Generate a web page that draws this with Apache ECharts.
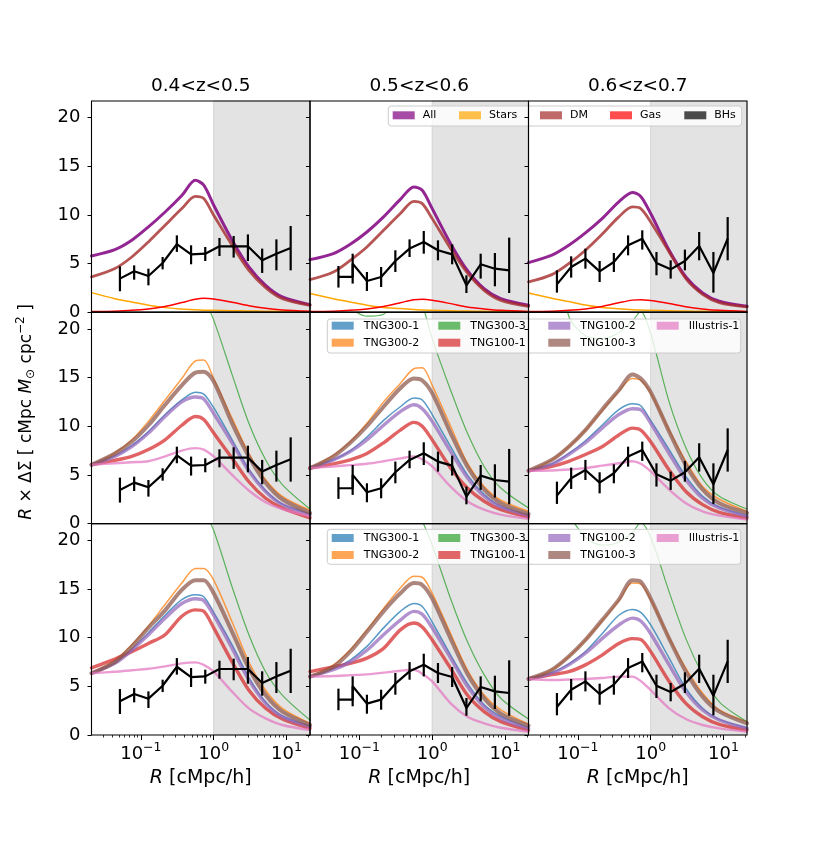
<!DOCTYPE html>
<html><head><meta charset="utf-8">
<script src="https://cdn.jsdelivr.net/npm/echarts@6/dist/echarts.min.js"></script>
<style>html,body{margin:0;padding:0;background:#fff}#c{width:830px;height:841px}</style>
</head><body><div id="c"></div>
<script>
// ---------------- data ----------------
const COLUMN_TITLES = ['0.4<z<0.5', '0.5<z<0.6', '0.6<z<0.7'];
const Y_TICKS = [0, 5, 10, 15, 20];
const X_MAJOR_TICKS = [0.1, 1, 10];
const X_MINOR_TICKS = [0.03,0.04,0.05,0.06,0.07,0.08,0.09,0.2,0.3,0.4,0.5,0.6,0.7,0.8,0.9,2,3,4,5,6,7,8,9,20];
const X_MIN = 0.021, X_MAX = 21, Y_MIN = 0, Y_MAX = 21.7;
const SHADE_FROM = 1;

// observed (black) points
const R_OBS = [0.0516, 0.0809, 0.127, 0.199, 0.312, 0.489, 0.766, 1.2, 1.88, 2.95, 4.63, 7.26, 11.4];
const OBS_Y_Z1  = [3.46, 4.21, 3.73, 5.06, 7.01, 5.95, 6.02, 6.78, 6.78, 6.78, 5.34, 6.02, 6.6];
const OBS_LO_Z1 = [2.16, 3.35, 2.77, 4.41, 6.2, 4.93, 5.27, 5.78, 5.62, 5.27, 4.04, 4.31, 4.31];
const OBS_HI_Z1 = [4.72, 4.82, 4.48, 5.68, 7.9, 6.88, 6.71, 7.63, 7.84, 8.0, 6.54, 7.49, 8.86];
const OBS_Y_Z2  = [3.63, 3.63, 3.22, 3.63, 5.27, 6.54, 7.22, 6.37, 5.95, 2.77, 4.93, 4.48, 4.31];
const OBS_Y2_Z2 = [null, 5.0, null, null, null, null, null, null, null, null, null, null, null];
const OBS_LO_Z2 = [2.54, 2.95, 2.19, 2.6, 4.14, 5.68, 6.02, 5.34, 4.93, 1.98, 3.46, 2.67, 1.98];
const OBS_HI_Z2 = [4.76, 6.02, 4.14, 4.65, 6.37, 7.49, 8.35, 7.39, 6.98, 3.8, 6.02, 6.09, 7.67];
const OBS_Y_Z3  = [2.87, 4.65, 5.51, 4.21, 5.17, 6.88, 7.56, 5.06, 4.41, 5.27, 6.81, 4.04, 7.56];
const OBS_LO_Z3 = [2.02, 3.56, 4.48, 3.11, 4.14, 5.85, 6.44, 3.8, 3.46, 4.31, 5.34, 2.02, 5.34];
const OBS_HI_Z3 = [4.31, 5.75, 6.54, 5.27, 6.09, 7.9, 8.42, 6.19, 5.34, 6.44, 8.25, 6.19, 9.78];

// model curves sampled at R_MODEL
const R_MODEL = [0.021, 0.044, 0.075, 0.127, 0.215, 0.365, 0.56, 0.73, 1.0, 1.79, 3.04, 5.16, 8.75, 21];

// top row: components
const ALL_Z1   = [5.79, 6.44, 7.4, 8.77, 10.3, 12.0, 13.56, 13.05, 11.0, 7.4, 4.66, 2.77, 1.58, 0.79];
const DM_Z1    = [3.63, 4.49, 5.68, 7.23, 8.94, 10.65, 11.9, 11.68, 9.97, 6.88, 4.3, 2.53, 1.4, 0.72];
const STARS_Z1 = [2.02, 1.4, 1.06, 0.72, 0.48, 0.34, 0.26, 0.22, 0.2, 0.16, 0.14, 0.11, 0.09, 0.07];
const GAS_Z1   = [0.07, 0.12, 0.2, 0.35, 0.6, 1.0, 1.33, 1.44, 1.37, 1.03, 0.68, 0.41, 0.24, 0.1];
const BHS_Z1   = [0.02, 0.02, 0.02, 0.02, 0.02, 0.02, 0.02, 0.02, 0.02, 0.02, 0.02, 0.02, 0.02, 0.02];
const ALL_Z2   = [5.41, 6.03, 6.99, 8.25, 9.8, 11.6, 12.88, 12.53, 10.65, 7.05, 4.3, 2.43, 1.4, 0.72];
const DM_Z2    = [3.36, 4.14, 5.34, 6.71, 8.42, 10.14, 11.4, 11.16, 9.62, 6.54, 4.04, 2.26, 1.23, 0.62];
const STARS_Z2 = [1.92, 1.4, 1.06, 0.72, 0.5, 0.38, 0.28, 0.24, 0.2, 0.16, 0.13, 0.1, 0.08, 0.06];
const GAS_Z2   = [0.07, 0.12, 0.2, 0.35, 0.6, 0.98, 1.3, 1.33, 1.23, 0.89, 0.55, 0.35, 0.2, 0.09];
const BHS_Z2   = [0.02, 0.02, 0.02, 0.02, 0.02, 0.02, 0.02, 0.02, 0.02, 0.02, 0.02, 0.02, 0.02, 0.02];
const ALL_Z3   = [5.1, 5.86, 6.88, 8.15, 9.62, 11.34, 12.3, 11.9, 10.14, 6.37, 3.63, 1.99, 1.13, 0.62];
const DM_Z3    = [3.12, 3.87, 5.0, 6.37, 8.01, 9.8, 10.82, 10.65, 9.28, 6.2, 3.46, 1.85, 0.99, 0.55];
const STARS_Z3 = [1.99, 1.45, 1.1, 0.75, 0.5, 0.36, 0.27, 0.23, 0.2, 0.16, 0.13, 0.1, 0.08, 0.06];
const GAS_Z3   = [0.07, 0.12, 0.2, 0.35, 0.6, 0.98, 1.25, 1.3, 1.2, 0.9, 0.58, 0.35, 0.2, 0.09];
const BHS_Z3   = [0.02, 0.02, 0.02, 0.02, 0.02, 0.02, 0.02, 0.02, 0.02, 0.02, 0.02, 0.02, 0.02, 0.02];

// middle row: simulations
const MID_TNG300_1_Z1 = [6.04, 6.96, 8.0, 9.45, 11.2, 12.7, 13.5, 13.3, 11.9, 8.6, 5.56, 3.4, 2.0, 0.99];
const MID_TNG300_2_Z1 = [6.04, 7.25, 8.6, 10.5, 12.7, 14.9, 16.7, 16.8, 14.9, 10.8, 7.2, 4.5, 2.8, 1.37];
const MID_TNG300_3_Z1 = [60, 50, 42, 36, 31, 27, 24, 23, 20.9, 15.3, 10.3, 6.55, 4.0, 1.5];
const MID_TNG100_1_Z1 = [6.04, 6.5, 6.9, 7.6, 8.6, 10.1, 11.0, 10.7, 9.3, 6.7, 4.3, 2.6, 1.6, 0.58];
const MID_TNG100_2_Z1 = [6.04, 6.9, 7.9, 9.3, 11.0, 12.5, 13.0, 12.8, 11.3, 8.3, 5.4, 3.3, 1.95, 0.92];
const MID_TNG100_3_Z1 = [6.04, 7.2, 8.4, 10.1, 12.2, 14.2, 15.5, 15.6, 14.6, 10.3, 6.9, 4.2, 2.5, 1.1];
const MID_ILLUSTRIS_Z1 = [6.04, 6.2, 6.3, 6.4, 6.9, 7.5, 7.75, 7.6, 6.9, 5.0, 3.4, 2.2, 1.5, 0.75];

const MID_TNG300_1_Z2 = [5.7, 6.55, 7.5, 8.9, 10.6, 12.0, 12.9, 12.7, 11.2, 7.9, 5.0, 3.0, 1.77, 0.89];
const MID_TNG300_2_Z2 = [5.7, 7.0, 8.4, 10.3, 12.5, 14.4, 15.9, 16.0, 14.2, 10.0, 6.2, 3.8, 2.4, 1.26];
const MID_TNG300_3_Z2 = [40, 26, 22.3, 21.3, 21.5, 23.5, 24, 22.5, 19.0, 13.7, 9.3, 5.87, 3.65, 1.6];
const MID_TNG100_1_Z2 = [5.7, 6.14, 6.55, 7.2, 8.3, 9.6, 10.4, 10.0, 8.6, 5.7, 3.65, 2.3, 1.43, 0.68];
const MID_TNG100_2_Z2 = [5.7, 6.55, 7.4, 8.6, 10.1, 11.5, 12.2, 11.8, 10.5, 7.4, 4.7, 2.8, 1.7, 0.82];
const MID_TNG100_3_Z2 = [5.7, 6.9, 8.3, 10.0, 12.0, 13.9, 14.9, 14.7, 13.4, 9.3, 5.87, 3.5, 2.1, 1.0];
const MID_ILLUSTRIS_Z2 = [5.7, 5.87, 6.0, 6.14, 6.4, 6.7, 6.9, 6.6, 5.87, 3.8, 2.3, 1.43, 0.92, 0.48];

const MID_TNG300_1_Z3 = [5.43, 6.14, 7.2, 8.5, 10.1, 11.7, 12.3, 12.1, 10.6, 7.6, 4.85, 2.8, 1.7, 0.82];
const MID_TNG300_2_Z3 = [5.43, 6.55, 7.9, 9.6, 11.6, 13.6, 14.9, 14.7, 13.4, 9.6, 6.4, 3.8, 2.5, 1.26];
const MID_TNG300_3_Z3 = [45, 30, 21.3, 19.3, 19.0, 19.6, 20.8, 21.8, 19.5, 12.5, 7.8, 4.6, 2.8, 1.5];
const MID_TNG100_1_Z3 = [5.43, 5.87, 6.4, 7.1, 7.9, 9.1, 9.8, 9.6, 8.4, 5.5, 3.3, 1.95, 1.16, 0.58];
const MID_TNG100_2_Z3 = [5.43, 6.1, 7.1, 8.3, 9.8, 11.2, 11.8, 11.7, 10.3, 7.2, 4.5, 2.6, 1.6, 0.75];
const MID_TNG100_3_Z3 = [5.43, 6.55, 7.9, 9.6, 11.7, 13.7, 15.3, 14.9, 13.5, 9.45, 6.0, 3.5, 2.1, 1.1];
const MID_ILLUSTRIS_Z3 = [5.43, 5.46, 5.55, 5.7, 5.95, 6.2, 6.4, 6.14, 5.36, 3.5, 2.1, 1.26, 0.82, 0.41];

// bottom row: simulations
const BOT_TNG300_1_Z1 = [6.34, 7.4, 8.8, 10.5, 12.3, 13.9, 14.4, 14.2, 12.6, 9.25, 5.9, 3.4, 1.95, 0.92];
const BOT_TNG300_2_Z1 = [6.34, 7.7, 9.25, 11.2, 13.4, 15.6, 17.1, 17.1, 15.9, 11.6, 7.5, 4.6, 2.74, 1.2];
const BOT_TNG300_3_Z1 = [60, 50, 42, 36, 31, 27, 24, 23, 21.0, 15.2, 10.3, 6.5, 4.1, 1.54];
const BOT_TNG100_1_Z1 = [6.9, 7.8, 8.56, 9.4, 10.3, 12.2, 12.85, 12.7, 11.0, 7.5, 4.6, 2.74, 1.64, 0.68];
const BOT_TNG100_2_Z1 = [6.34, 7.36, 8.7, 10.3, 12.0, 13.5, 14.0, 13.8, 12.3, 8.9, 5.65, 3.25, 1.88, 0.86];
const BOT_TNG100_3_Z1 = [6.34, 7.5, 9.1, 11.0, 12.8, 14.9, 15.9, 15.9, 14.55, 10.6, 6.85, 4.1, 2.4, 1.03];
const BOT_ILLUSTRIS_Z1 = [6.34, 6.5, 6.65, 6.8, 7.05, 7.36, 7.46, 7.2, 6.5, 4.45, 2.74, 1.71, 1.03, 0.51];

const BOT_TNG300_1_Z2 = [6.0, 6.8, 7.7, 9.1, 11.0, 12.7, 13.5, 13.2, 11.6, 8.2, 5.3, 3.1, 1.9, 0.75];
const BOT_TNG300_2_Z2 = [6.0, 7.2, 8.76, 10.8, 13.0, 15.1, 16.3, 16.2, 14.55, 10.4, 6.7, 4.1, 2.57, 1.1];
const BOT_TNG300_3_Z2 = [40, 27, 23, 21.8, 21.9, 24, 24, 22.0, 19.5, 14.0, 9.6, 6.2, 3.77, 1.64];
const BOT_TNG100_1_Z2 = [6.5, 7.0, 7.36, 7.9, 8.9, 10.8, 11.5, 11.1, 9.76, 6.85, 4.1, 2.4, 1.37, 0.51];
const BOT_TNG100_2_Z2 = [6.0, 6.7, 7.5, 8.7, 10.3, 11.8, 12.7, 12.4, 11.0, 7.9, 5.0, 2.9, 1.71, 0.68];
const BOT_TNG100_3_Z2 = [6.0, 7.0, 8.56, 10.6, 12.7, 14.55, 15.6, 15.4, 14.0, 9.9, 6.3, 3.77, 2.2, 0.96];
const BOT_ILLUSTRIS_Z2 = [6.0, 6.06, 6.15, 6.23, 6.4, 6.6, 6.7, 6.3, 5.5, 3.25, 1.88, 1.2, 0.75, 0.34];

const BOT_TNG300_1_Z3 = [5.75, 6.4, 7.3, 8.56, 10.4, 12.3, 12.9, 12.6, 11.3, 7.9, 4.8, 2.74, 1.6, 0.75];
const BOT_TNG300_2_Z3 = [5.75, 6.7, 8.05, 9.76, 11.7, 13.8, 15.6, 15.5, 13.9, 10.0, 6.85, 4.3, 2.57, 1.37];
const BOT_TNG300_3_Z3 = [45, 32, 23, 20.3, 19.5, 19.8, 20.8, 21.8, 20.3, 14.7, 9.9, 6.2, 3.4, 1.37];
const BOT_TNG100_1_Z3 = [5.75, 6.2, 6.5, 7.2, 8.2, 9.4, 9.9, 9.8, 8.56, 5.5, 3.25, 1.88, 1.1, 0.51];
const BOT_TNG100_2_Z3 = [5.75, 6.34, 7.2, 8.4, 9.9, 11.3, 12.0, 11.7, 10.4, 7.2, 4.45, 2.57, 1.54, 0.68];
const BOT_TNG100_3_Z3 = [5.75, 6.7, 8.05, 9.76, 11.8, 13.9, 15.9, 15.75, 14.0, 9.9, 6.5, 3.94, 2.4, 1.2];
const BOT_ILLUSTRIS_Z3 = [5.75, 5.65, 5.7, 5.75, 5.85, 6.0, 6.0, 5.55, 4.6, 2.74, 1.64, 1.03, 0.68, 0.34];

const COMPONENT_NAMES = ['All', 'Stars', 'DM', 'Gas', 'BHs'];
const SIM_NAMES = ['TNG300-1', 'TNG300-2', 'TNG300-3', 'TNG100-1', 'TNG100-2', 'TNG100-3', 'Illustris-1'];

// ---------------- styles & layout ----------------
const FONT = 'DejaVu Sans';
const COL_LEFT = [91.5, 310, 528.5], COL_W = 218.5;
const ROW_TOP = [101, 312.3, 523.7], ROW_H = 211.3;
const SHADE_COLOR = '#e3e3e3';
const STYLE = {
  'All':        {color: '#800080', width: 3.0, opacity: 0.85, legend: 'rgba(128,0,128,0.7)'},
  'Stars':      {color: '#ffa500', width: 1.5, opacity: 1,    legend: 'rgba(255,165,0,0.7)'},
  'DM':         {color: '#a52a2a', width: 2.8, opacity: 0.8,  legend: 'rgba(165,42,42,0.7)'},
  'Gas':        {color: '#ff0000', width: 1.5, opacity: 1,    legend: 'rgba(255,0,0,0.7)'},
  'BHs':        {color: '#000000', width: 1.2, opacity: 0.8,  legend: 'rgba(0,0,0,0.7)'},
  'TNG300-1':   {color: '#1f77b4', width: 1.5, opacity: 0.75, legend: 'rgba(31,119,180,0.7)'},
  'TNG300-2':   {color: '#ff7f0e', width: 1.5, opacity: 0.75, legend: 'rgba(255,127,14,0.7)'},
  'TNG300-3':   {color: '#2ca02c', width: 1.2, opacity: 0.75, legend: 'rgba(44,160,44,0.7)'},
  'TNG100-1':   {color: '#d62728', width: 3.4, opacity: 0.72, legend: 'rgba(214,39,40,0.7)'},
  'TNG100-2':   {color: '#9467bd', width: 3.4, opacity: 0.72, legend: 'rgba(148,103,189,0.7)'},
  'TNG100-3':   {color: '#8c564b', width: 4.0, opacity: 0.72, legend: 'rgba(140,86,75,0.7)'},
  'Illustris-1':{color: '#e377c2', width: 2.4, opacity: 0.72, legend: 'rgba(227,119,194,0.7)'}
};

const PANEL_CURVES = [
  [ [ALL_Z1, STARS_Z1, DM_Z1, GAS_Z1, BHS_Z1],
    [ALL_Z2, STARS_Z2, DM_Z2, GAS_Z2, BHS_Z2],
    [ALL_Z3, STARS_Z3, DM_Z3, GAS_Z3, BHS_Z3] ],
  [ [MID_TNG300_1_Z1, MID_TNG300_2_Z1, MID_TNG300_3_Z1, MID_TNG100_1_Z1, MID_TNG100_2_Z1, MID_TNG100_3_Z1, MID_ILLUSTRIS_Z1],
    [MID_TNG300_1_Z2, MID_TNG300_2_Z2, MID_TNG300_3_Z2, MID_TNG100_1_Z2, MID_TNG100_2_Z2, MID_TNG100_3_Z2, MID_ILLUSTRIS_Z2],
    [MID_TNG300_1_Z3, MID_TNG300_2_Z3, MID_TNG300_3_Z3, MID_TNG100_1_Z3, MID_TNG100_2_Z3, MID_TNG100_3_Z3, MID_ILLUSTRIS_Z3] ],
  [ [BOT_TNG300_1_Z1, BOT_TNG300_2_Z1, BOT_TNG300_3_Z1, BOT_TNG100_1_Z1, BOT_TNG100_2_Z1, BOT_TNG100_3_Z1, BOT_ILLUSTRIS_Z1],
    [BOT_TNG300_1_Z2, BOT_TNG300_2_Z2, BOT_TNG300_3_Z2, BOT_TNG100_1_Z2, BOT_TNG100_2_Z2, BOT_TNG100_3_Z2, BOT_ILLUSTRIS_Z2],
    [BOT_TNG300_1_Z3, BOT_TNG300_2_Z3, BOT_TNG300_3_Z3, BOT_TNG100_1_Z3, BOT_TNG100_2_Z3, BOT_TNG100_3_Z3, BOT_ILLUSTRIS_Z3] ]
];
const OBS = [
  {y: OBS_Y_Z1, y2: null, lo: OBS_LO_Z1, hi: OBS_HI_Z1},
  {y: OBS_Y_Z2, y2: OBS_Y2_Z2, lo: OBS_LO_Z2, hi: OBS_HI_Z2},
  {y: OBS_Y_Z3, y2: null, lo: OBS_LO_Z3, hi: OBS_HI_Z3}
];

const fmtPow = v => {
  const l = Math.log10(v), e = Math.round(l);
  if (Math.abs(l - e) > 1e-6) return '';
  return '10{s|' + (e < 0 ? '\u2212' + (-e) : String(e)) + '}';
};

const grids = [], xAxes = [], yAxes = [], series = [];
for (let r = 0; r < 3; r++) {
  for (let c = 0; c < 3; c++) {
    const gi = grids.length;
    grids.push({left: COL_LEFT[c], top: ROW_TOP[r], width: COL_W, height: ROW_H,
      show: false, containLabel: false, outerBoundsMode: 'none'});
    const xi = xAxes.length;
    const bottom = r === 2;
    xAxes.push({
      gridIndex: gi, type: 'log', logBase: 10, min: X_MIN, max: X_MAX, z: 10, position: 'bottom',
      axisLine: {show: false}, splitLine: {show: false},
      axisTick: bottom ? {show: true, customValues: X_MAJOR_TICKS, length: 5, lineStyle: {color: '#000', width: 1}} : {show: false},
      axisLabel: bottom ? {show: true, customValues: X_MAJOR_TICKS, formatter: fmtPow, margin: 6,
        color: '#000', fontFamily: FONT, fontSize: 18,
        rich: {s: {fontFamily: FONT, fontSize: 12.5, color: '#000', verticalAlign: 'top', padding: [0, 0, 14, 0]}}} : {show: false},
      name: bottom ? '{i|R} [cMpc/h]' : '', nameLocation: 'middle', nameGap: 34,
      nameTextStyle: {fontFamily: FONT, fontSize: 19, color: '#000',
        rich: {i: {fontFamily: FONT, fontSize: 19, fontStyle: 'italic', color: '#000'}}}
    });
    if (bottom) {
      xAxes.push({
        gridIndex: gi, type: 'log', logBase: 10, min: X_MIN, max: X_MAX, z: 10, position: 'bottom',
        axisLine: {show: false}, splitLine: {show: false}, axisLabel: {show: false},
        axisTick: {show: true, customValues: X_MINOR_TICKS, length: 2.5, lineStyle: {color: '#000', width: 0.8}}
      });
    }
    yAxes.push({
      gridIndex: gi, type: 'value', min: Y_MIN, max: Y_MAX, z: 10, position: 'left',
      axisLine: {show: false}, splitLine: {show: false},
      axisTick: {show: true, customValues: Y_TICKS, length: 4, lineStyle: {color: '#000', width: 1}},
      axisLabel: c === 0 ? {show: true, customValues: Y_TICKS, margin: 11, color: '#000', fontFamily: FONT, fontSize: 18} : {show: false}
    });
    const yi = gi;
    // shaded region R > 1
    series.push({type: 'line', xAxisIndex: xi, yAxisIndex: yi, data: [], silent: true, z: 1,
      markArea: {silent: true, itemStyle: {color: SHADE_COLOR, borderColor: '#d2d2d2', borderWidth: 1},
        data: [[{xAxis: SHADE_FROM}, {xAxis: X_MAX}]]}});
    // model curves
    const names = r === 0 ? COMPONENT_NAMES : SIM_NAMES;
    PANEL_CURVES[r][c].forEach((arr, k) => {
      const st = STYLE[names[k]];
      series.push({type: 'line', name: names[k], xAxisIndex: xi, yAxisIndex: yi,
        data: R_MODEL.map((x, j) => [x, arr[j]]),
        symbol: 'none', smooth: 0.3, clip: true, silent: true, z: 2,
        lineStyle: {color: st.color, width: st.width, opacity: st.opacity, cap: 'round', join: 'round'},
        itemStyle: {color: st.legend}});
    });
    // observed
    const ob = OBS[c];
    const lineData = [];
    R_OBS.forEach((x, j) => {
      lineData.push([x, ob.y[j]]);
      if (ob.y2 && ob.y2[j] != null) lineData.push([x, ob.y2[j]]);
    });
    series.push({type: 'line', xAxisIndex: xi, yAxisIndex: yi, data: lineData, symbol: 'none',
      silent: true, z: 5, lineStyle: {color: '#000', width: 2.2}});
    series.push({type: 'custom', xAxisIndex: xi, yAxisIndex: yi, silent: true, z: 5,
      data: R_OBS.map((x, j) => [x, ob.lo[j], ob.hi[j]]),
      encode: {x: 0, y: [1, 2]},
      renderItem: (params, api) => {
        const a = api.coord([api.value(0), api.value(1)]);
        const b = api.coord([api.value(0), api.value(2)]);
        return {type: 'line', shape: {x1: a[0], y1: a[1], x2: b[0], y2: b[1]},
          style: {stroke: '#000', lineWidth: 2.2}};
      }});
  }
}

// legends
function legendComp(left, top, names, pad) {
  return {left: left, top: top, orient: 'vertical', icon: 'rect', itemWidth: 22, itemHeight: 8,
    itemGap: 2, padding: 0, selectedMode: false, z: 8,
    data: names.map(n => ({name: n, itemStyle: {color: STYLE[n].legend, borderWidth: 0}})),
    lineStyle: {width: 0, opacity: 0},
    textStyle: {fontFamily: FONT, fontSize: 11, color: '#000', lineHeight: 15, padding: [0, 0, 0, pad]}};
}
const legends = [];
const TOP_LEG_X = [392.7, 459, 540, 610, 684.3];
COMPONENT_NAMES.forEach((n, i) => legends.push(legendComp(TOP_LEG_X[i], 107.8, [n], 3)));
const SIM_LEG_X = [331.7, 438.3, 548.3, 656.7];
const SIM_LEG_COLS = [['TNG300-1', 'TNG300-2'], ['TNG300-3', 'TNG100-1'], ['TNG100-2', 'TNG100-3'], ['Illustris-1']];
[318.2, 530.5].forEach(top => {
  SIM_LEG_COLS.forEach((cols, i) => legends.push(legendComp(SIM_LEG_X[i], top, cols, 5)));
});

// graphics: legend boxes, frames, titles, y label
const graphics = [];
[[388.3, 106, 353.4, 20], [327.3, 319, 413.4, 34], [327.3, 529.3, 413.4, 35]].forEach(b => {
  graphics.push({type: 'rect', z: 7, silent: true,
    shape: {x: b[0], y: b[1], width: b[2], height: b[3], r: 3},
    style: {fill: 'rgba(255,255,255,0.8)', stroke: '#cccccc', lineWidth: 1}});
});
for (let r = 0; r < 3; r++) for (let c = 0; c < 3; c++) {
  graphics.push({type: 'rect', z: 100, silent: true,
    shape: {x: COL_LEFT[c], y: ROW_TOP[r], width: COL_W, height: ROW_H},
    style: {fill: 'none', stroke: '#000', lineWidth: 1.1}});
}
COLUMN_TITLES.forEach((t, c) => {
  graphics.push({type: 'text', z: 100, silent: true, x: COL_LEFT[c] + COL_W / 2, y: 86,
    style: {text: t, fontFamily: FONT, fontSize: 18.5, fill: '#000', align: 'center', verticalAlign: 'middle'}});
});
graphics.push({type: 'text', z: 100, silent: true, x: 27, y: 412, rotation: Math.PI / 2,
  style: {text: '{i|R} \u00d7 \u0394\u03a3 [ cMpc {i|M}{sub|\u2299} cpc{sup|\u22122} ]',
    fontFamily: FONT, fontSize: 17, fill: '#000', align: 'center', verticalAlign: 'middle',
    rich: {
      i: {fontFamily: FONT, fontSize: 17, fontStyle: 'italic', fill: '#000'},
      sub: {fontFamily: FONT, fontSize: 12, fill: '#000', verticalAlign: 'middle', padding: [8, 0, 0, 0]},
      sup: {fontFamily: FONT, fontSize: 12, fill: '#000', verticalAlign: 'top', padding: [0, 0, 13, 0]}
    }}});

const chart = echarts.init(document.getElementById('c'), null, {renderer: 'canvas', width: 830, height: 841});
chart.setOption({
  animation: false,
  backgroundColor: '#ffffff',
  grid: grids, xAxis: xAxes, yAxis: yAxes, series: series,
  legend: legends, graphic: {elements: graphics}
});
</script></body></html>
